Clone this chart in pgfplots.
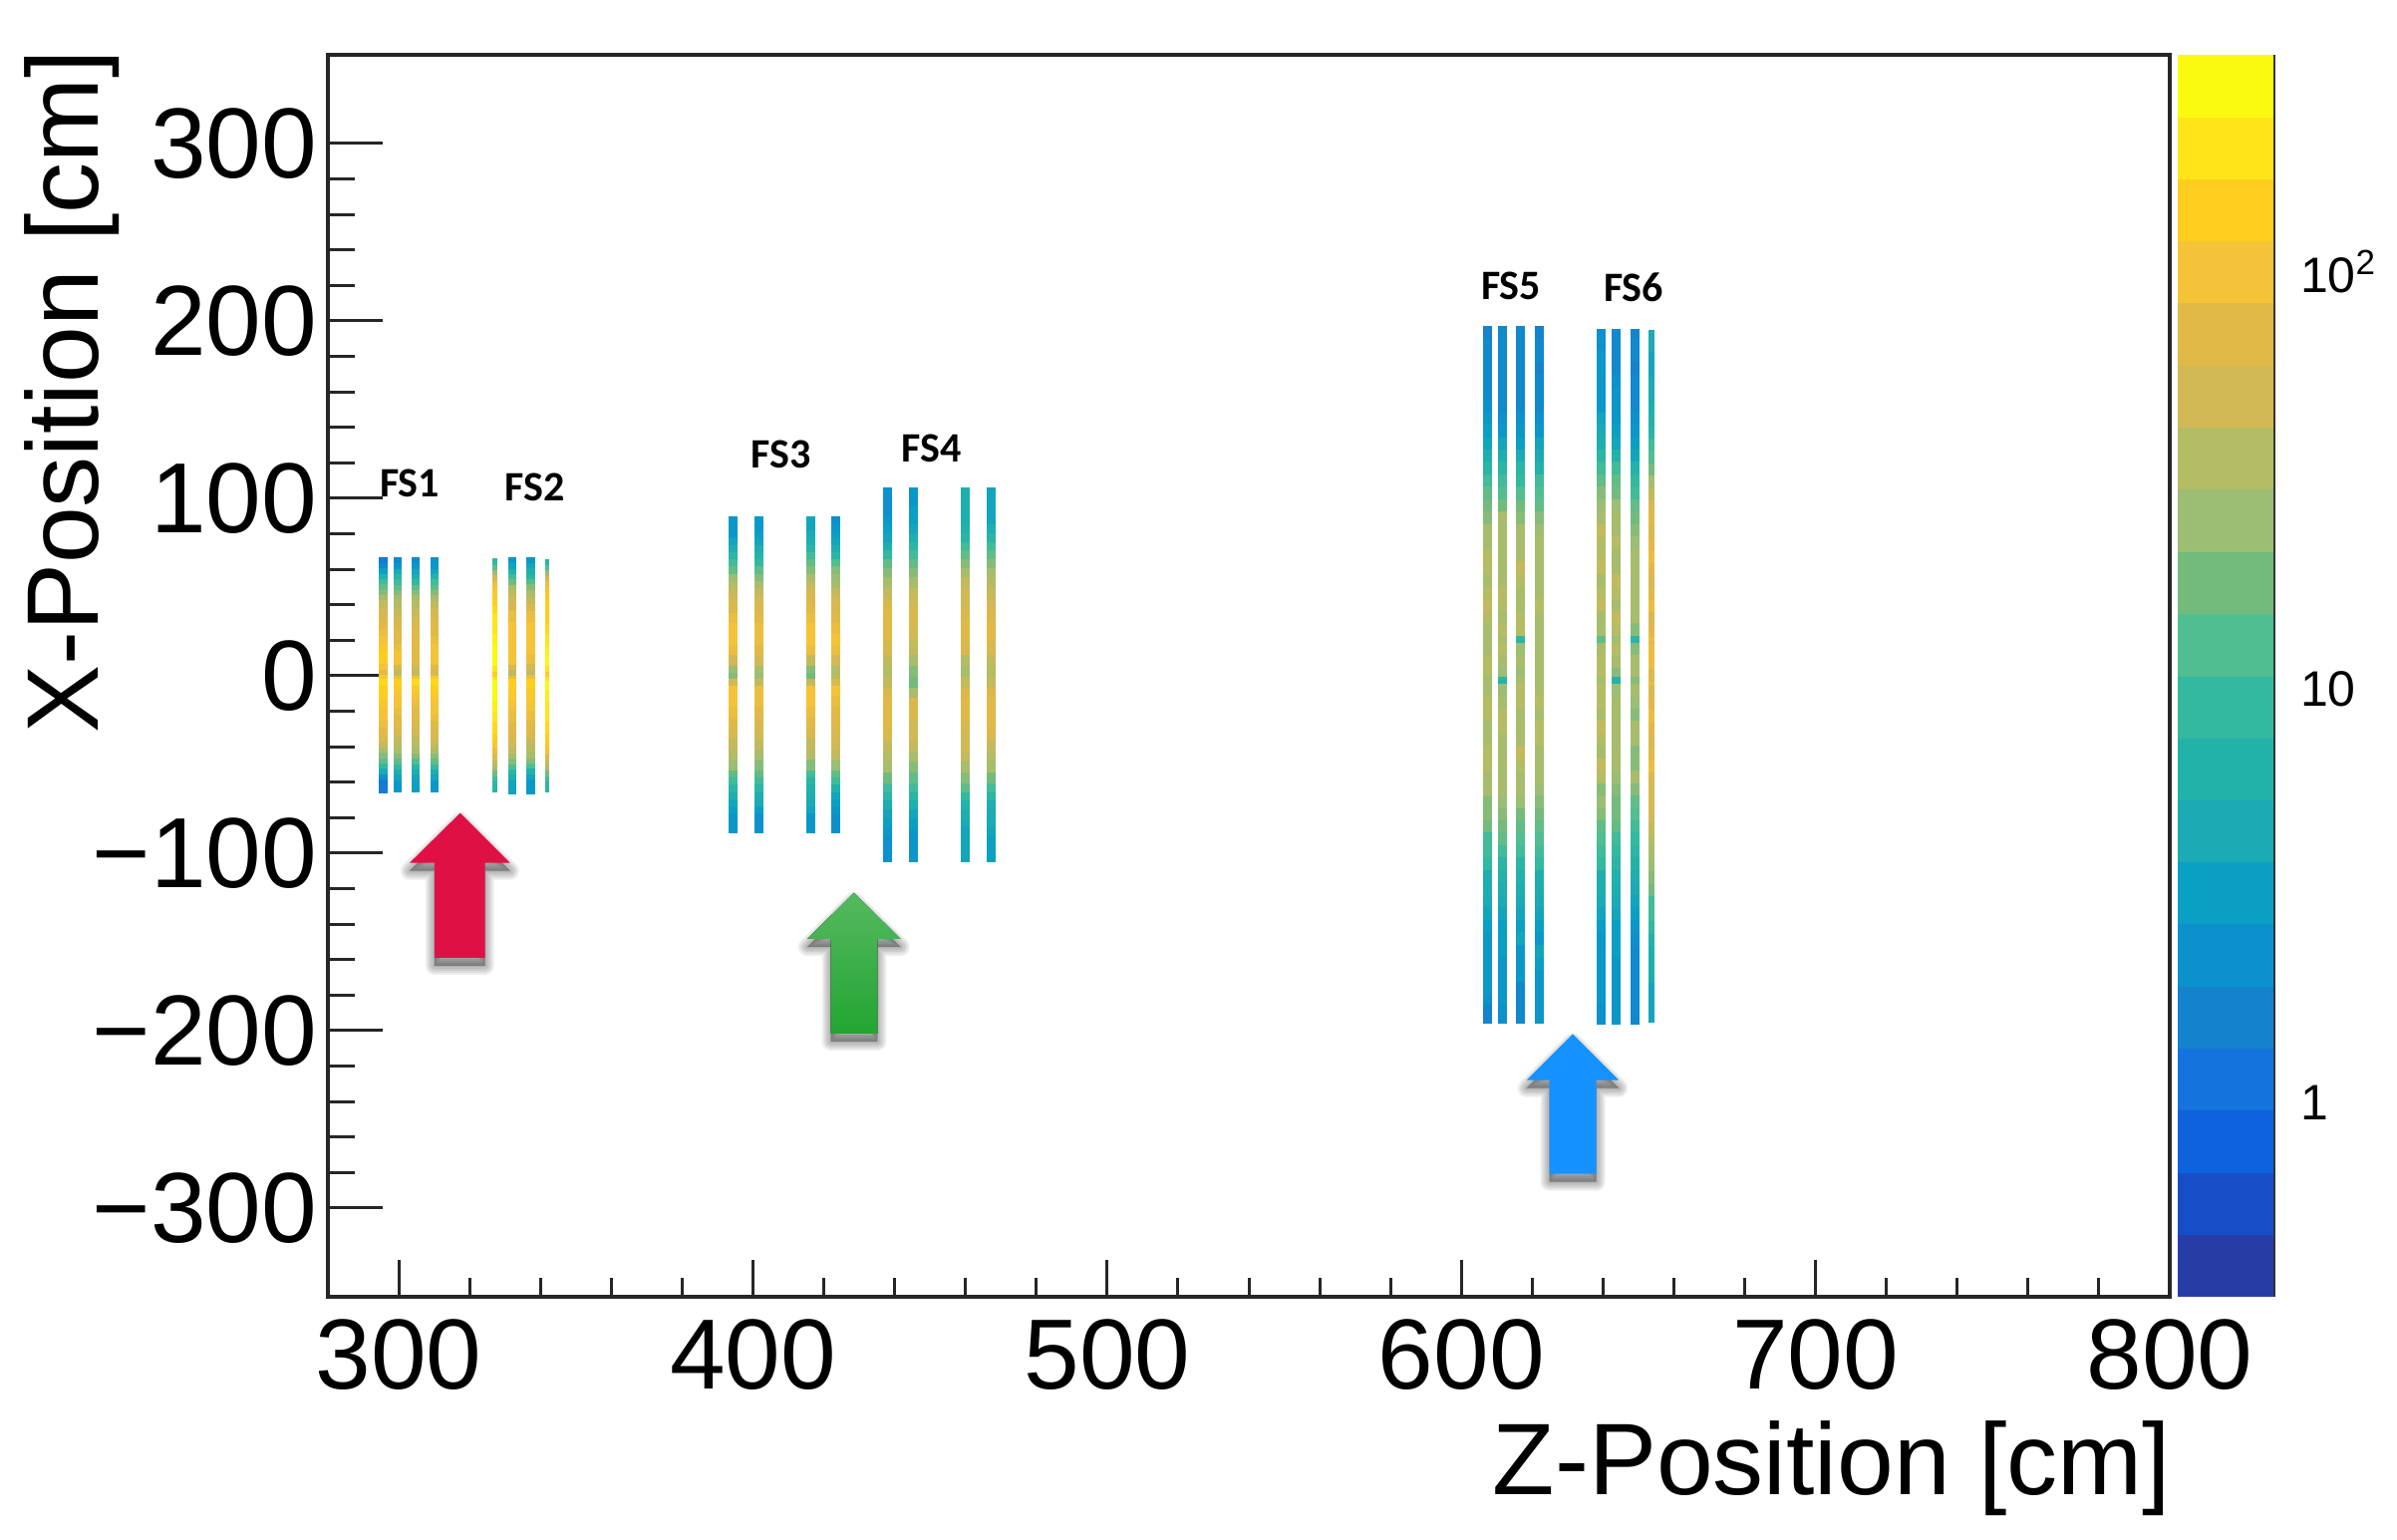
\documentclass[border=0pt]{standalone}
\usepackage{fontspec}
\usepackage{pgfplots}
\usepackage{pgfplotstable}
\pgfplotsset{compat=1.18}
\setmainfont{Liberation Sans}
\newfontfamily\fsfont{Carlito}

\pgfplotsset{colormap={rootc}{
  rgb255=(40,60,165) rgb255=(22,78,200) rgb255=(15,98,222) rgb255=(20,115,220)
  rgb255=(20,130,205) rgb255=(12,145,205) rgb255=(10,160,195) rgb255=(28,170,180)
  rgb255=(35,178,170) rgb255=(50,185,160) rgb255=(80,190,145) rgb255=(115,187,125)
  rgb255=(155,190,115) rgb255=(180,188,100) rgb255=(210,185,85) rgb255=(225,185,70)
  rgb255=(245,195,55) rgb255=(255,205,30) rgb255=(255,228,25) rgb255=(250,250,15)}}

% colour band along each strip, one column per plane
\pgfplotstableread{
y a b c d
64.5 3 4 4 5
61 4 5 5 5
58 5 6 6 6
55 7 8 7 7
52 9 9 8 9
49 10 10 10 10
46 11 11 11 11
43 12 12 12 12
40 13 13 13 13
36 14 13 13 14
32 14 14 14 14
28 15 14 14 15
24 15 15 15 15
20 16 15 15 15
16 16 15 15 16
12 17 16 15 16
8 17 16 15 16
4 17 16 15 16
1 15 13 13 14
-2 15 14 14 15
-4 18 17 18 18
-8 17 17 17 17
-12 17 16 16 17
-16 17 16 16 16
-20 16 16 15 16
-24 16 15 15 16
-28 16 15 15 15
-32 15 15 14 15
-36 15 14 14 14
-40 14 13 13 14
-43 13 13 13 13
-46 12 12 12 12
-49 11 11 11 11
-52 10 10 9 10
-55 8 8 8 8
-58 6 7 7 7
-61 4 6 6 6
-63.5 3 5 6 5
}\fsone
\pgfplotstableread{
y a b c d
64.5 8 5 5 8
61 10 6 6 9
58 11 7 7 11
55 13 9 8 13
52 15 10 9 15
49 16 12 11 16
46 16 13 12 16
42 17 14 13 17
38 17 14 14 17
34 18 15 15 17
28 18 16 16 17
22 18 16 16 18
16 19 16 16 18
10 19 16 16 19
4 19 16 15 19
1 17 13 13 17
-2 17 14 14 17
-4 19 17 17 19
-10 19 17 17 19
-16 19 16 16 18
-22 18 16 16 18
-28 18 15 15 18
-34 17 15 15 17
-38 17 14 14 17
-42 16 14 13 16
-46 15 13 13 16
-49 14 12 12 14
-52 13 11 11 13
-55 12 9 9 12
-58 10 8 7 10
-61 9 7 6 9
-64.5 8 6 5 8
}\fstwo
\pgfplotstableread{
y a b c d
87.5 5 6 7 5
83 6 5 6 5
79 5 6 7 6
75 6 6 7 6
71 7 7 8 7
67 8 8 9 8
63 9 8 10 9
59 10 10 11 11
55 11 11 12 12
51 13 12 13 12
47 13 13 14 13
43 14 14 14 14
39 14 14 15 14
33 15 15 15 15
27 16 15 16 15
21 16 16 16 16
15 16 15 16 16
9 15 15 15 15
3 13 13 12 13
-1 11 12 11 13
-4 12 12 11 13
-8 16 15 16 16
-14 16 16 16 16
-20 16 15 16 15
-26 15 15 15 15
-32 15 14 15 15
-38 14 14 14 14
-44 13 13 13 14
-50 13 12 13 13
-56 11 11 10 11
-60 10 10 9 10
-64 9 9 8 9
-68 8 8 8 7
-72 7 7 7 6
-76 6 7 7 6
-80 6 5 6 5
-86.5 5 5 5 5
}\fsthree
\pgfplotstableread{
y a b c d
103.5 5 6 8 7
98 5 5 7 6
93 5 6 8 7
88 5 6 7 6
83 6 6 8 7
78 6 7 8 8
73 7 8 9 9
68 8 9 10 10
63 10 10 11 11
58 11 11 12 12
53 12 12 13 13
47 13 13 14 13
41 14 14 14 14
35 15 14 14 14
29 15 15 15 15
23 15 14 15 15
17 15 14 15 15
9 14 13 14 14
3 13 12 12 13
-3 13 11 13 13
-9 14 11 14 14
-15 15 14 15 15
-21 15 15 15 15
-27 15 14 15 15
-33 15 14 14 15
-39 14 14 14 14
-45 13 13 14 13
-51 13 12 13 13
-57 12 11 12 12
-63 10 10 11 10
-68 9 9 10 9
-73 8 8 8 8
-78 7 7 8 7
-83 6 6 7 7
-88 6 6 7 7
-93 5 5 6 6
-98 5 6 7 6
-102.5 5 5 6 6
}\fsfour
\pgfplotstableread{
y a b c d
194.5 4 4 4 4
188 4 5 5 4
181 5 4 4 5
174 4 5 5 4
167 5 4 4 4
160 4 5 5 5
153 5 4 4 4
146 5 5 5 5
139 6 5 5 5
132 6 6 6 6
125 7 7 6 7
118 8 8 8 7
111 9 9 9 9
104 10 10 9 10
97 11 10 11 10
90 11 12 11 11
83 12 13 12 12
76 13 12 13 12
69 12 13 12 13
62 14 12 13 12
55 12 13 14 13
48 13 12 12 12
41 13 14 13 13
34 14 12 12 13
27 12 13 14 12
20 13 13 12 13
18 12 12 6 12
16 13 13 11 13
9 12 13 13 12
2 14 12 12 13
-3 12 12 12 12
-5 12 5 13 13
-7 13 11 12 12
-14 12 13 14 13
-21 14 12 12 13
-28 12 14 13 12
-35 13 12 12 14
-42 12 13 13 12
-49 14 12 14 13
-56 12 13 12 12
-63 13 12 13 13
-70 12 13 12 11
-77 11 11 12 12
-84 12 12 10 10
-91 10 10 11 11
-98 9 11 9 9
-105 10 8 10 10
-112 8 9 7 8
-119 7 7 9 7
-126 8 8 6 8
-133 6 6 8 6
-140 7 7 5 7
-147 5 5 7 5
-154 6 7 6 6
-161 5 5 5 7
-168 6 6 6 5
-175 5 5 5 6
-182 6 6 4 5
-188 4 5 5 6
-193.5 4 5 4 5
}\fsfive
\pgfplotstableread{
y a b c d
193 5 5 4 7
188 5 4 4 7
181 5 5 5 7
174 6 4 4 6
167 5 5 4 7
160 6 5 5 7
153 5 6 4 7
146 6 5 5 8
139 7 6 5 8
132 7 6 6 9
125 8 7 6 10
118 9 9 7 10
111 10 10 9 12
104 11 11 9 13
97 12 11 10 14
90 12 13 11 15
83 13 12 11 15
76 14 13 12 14
69 12 13 12 16
62 14 12 13 15
55 13 13 12 15
48 12 14 13 14
41 14 12 12 16
34 13 13 13 15
27 12 14 12 14
20 13 12 11 16
18 8 12 6 15
16 13 13 11 15
9 12 13 12 16
2 14 12 13 15
-3 12 11 12 14
-5 13 5 11 16
-7 12 11 12 15
-14 14 13 13 14
-21 12 12 11 16
-28 13 13 12 15
-35 14 12 13 15
-42 12 13 12 14
-49 13 12 11 16
-56 14 13 12 15
-63 12 11 13 14
-70 11 12 10 14
-77 13 10 11 15
-84 10 12 9 13
-91 11 9 10 14
-98 9 10 8 12
-105 10 8 9 13
-112 8 9 7 11
-119 7 7 8 12
-126 8 8 6 10
-133 6 6 7 9
-140 7 7 5 10
-147 5 5 6 8
-154 6 7 4 8
-161 5 5 5 7
-168 6 6 4 8
-175 5 5 5 7
-182 6 6 4 6
-188 5 5 5 7
-194 5 6 4 6
}\fssix

% one strip: z position, width, table, column
\newcommand{\strip}[4]{\addplot[mesh,line width=#2,line cap=rect,point meta=explicit,forget plot]
  table[x expr=#1,y=y,meta=#4]{#3};}
\newcommand{\band}[3]{\addplot[index of colormap=#1 of rootc,fill=.,draw=none,forget plot]
  coordinates {(0,#2)(1,#2)(1,#3)(0,#3)} --cycle;}
% soft shadow, then the arrow on top
\newcommand{\uparrowpic}[2]{
  \foreach \w in {1,3,5,7,9}{
    \draw[black,fill=black,opacity=.07,line width=\w pt,line join=round,yshift=-4pt] #2;}
  \fill[#1] #2;}

\begin{document}
\begin{tikzpicture}
\path[use as bounding box] (-164.5pt,-122pt) rectangle (1038pt,650.5pt);
\begin{axis}[
    at={(0,0)}, anchor=south west,
    scale only axis, width=924pt, height=623pt,
    xmin=280, xmax=800, ymin=-350, ymax=350,
    colormap name=rootc, point meta min=0, point meta max=19,
    xtick={300,400,500,600,700,800},
    xticklabels={300,400,500,600,700,800},
    ytick={-300,-200,-100,0,100,200,300},
    yticklabels={−300,−200,−100,0,100,200,300},
    minor x tick num=4, minor y tick num=4,
    xtick pos=bottom, ytick pos=left, tick align=inside,
    axis line style={line width=1.6pt,black!85},
    tick style={line width=1.5pt,black!85},
    major tick length=27.5pt, minor tick length=13.5pt,
    x tick style={/pgfplots/major tick length=18.5pt,/pgfplots/minor tick length=9.5pt},
    tick label style={font=\fontsize{50}{58}\selectfont},
    xticklabel style={yshift=-8pt},
    yticklabel style={xshift=-2pt},
    xlabel={Z-Position [cm]}, ylabel={X-Position [cm]},
    label style={font=\fontsize{51}{60}\selectfont},
    xlabel style={at={(axis description cs:1,0)},anchor=base east,yshift=-99.5pt,xshift=4pt},
    ylabel style={at={(axis description cs:0,1)},anchor=base east,yshift=115pt,xshift=6pt},
]
\strip{295.5}{4.5pt}{\fsone}{a}
\strip{299.7}{4pt}{\fsone}{b}
\strip{304.9}{4pt}{\fsone}{c}
\strip{310.2}{4pt}{\fsone}{d}
\strip{327.2}{2.7pt}{\fstwo}{a}
\strip{332.1}{4pt}{\fstwo}{b}
\strip{337.2}{4.5pt}{\fstwo}{c}
\strip{341.9}{2.4pt}{\fstwo}{d}
\strip{394.3}{4.5pt}{\fsthree}{a}
\strip{401.6}{4.5pt}{\fsthree}{b}
\strip{416.2}{4.5pt}{\fsthree}{c}
\strip{423.4}{4.5pt}{\fsthree}{d}
\strip{437.9}{4.5pt}{\fsfour}{a}
\strip{445.2}{4.5pt}{\fsfour}{b}
\strip{459.9}{4.5pt}{\fsfour}{c}
\strip{467.2}{4.5pt}{\fsfour}{d}
\strip{607.3}{4.5pt}{\fsfive}{a}
\strip{611.5}{4.5pt}{\fsfive}{b}
\strip{616.7}{4.5pt}{\fsfive}{c}
\strip{621.9}{4.5pt}{\fsfive}{d}
\strip{639.4}{4.5pt}{\fssix}{a}
\strip{643.7}{4.5pt}{\fssix}{b}
\strip{648.9}{4.5pt}{\fssix}{c}
\strip{653.7}{3pt}{\fssix}{d}
\node[font=\fsfont\bfseries\fontsize{21}{25}\selectfont,inner sep=0pt] at (axis cs:303.1,108.4) {FS1};
\node[font=\fsfont\bfseries\fontsize{21}{25}\selectfont,inner sep=0pt] at (axis cs:338.4,106) {FS2};
\node[font=\fsfont\bfseries\fontsize{21}{25}\selectfont,inner sep=0pt] at (axis cs:408,124.7) {FS3};
\node[font=\fsfont\bfseries\fontsize{21}{25}\selectfont,inner sep=0pt] at (axis cs:450.4,128.4) {FS4};
\node[font=\fsfont\bfseries\fontsize{21}{25}\selectfont,inner sep=0pt] at (axis cs:614,219.7) {FS5};
\node[font=\fsfont\bfseries\fontsize{21}{25}\selectfont,inner sep=0pt] at (axis cs:648.6,219) {FS6};
\end{axis}

% colour scale, same log range as the strips
\begin{axis}[
    at={(928pt,0)}, anchor=south west,
    scale only axis, width=48pt, height=623pt,
    xmin=0, xmax=1, ymin=0.33, ymax=330, ymode=log,
    axis x line=none, axis y line=right,
    axis line style={-,line width=1.6pt,black!80},
    tick align=inside,
    tick style={line width=1.3pt,black},
    major tick length=27.5pt, minor tick length=13.5pt,
    ytick={1,10,100},
    yticklabels={1,10,10\textsuperscript{2}},
    minor ytick={0.4,0.5,0.6,0.7,0.8,0.9,2,3,4,5,6,7,8,9,20,30,40,50,60,70,80,90,200,300},
    yticklabel style={font=\fontsize{25}{30}\selectfont,anchor=base west,xshift=10pt,yshift=-11.5pt},
    log basis y=10,
]
\band{0}{0.33}{0.466}
\band{1}{0.466}{0.658}
\band{2}{0.658}{0.93}
\band{3}{0.93}{1.31}
\band{4}{1.31}{1.85}
\band{5}{1.85}{2.62}
\band{6}{2.62}{3.7}
\band{7}{3.7}{5.22}
\band{8}{5.22}{7.37}
\band{9}{7.37}{10.4}
\band{10}{10.4}{14.7}
\band{11}{14.7}{20.8}
\band{12}{20.8}{29.4}
\band{13}{29.4}{41.5}
\band{14}{41.5}{58.6}
\band{15}{58.6}{82.8}
\band{16}{82.8}{117}
\band{17}{117}{165}
\band{18}{165}{233}
\band{19}{233}{330}
\end{axis}

% arrows pointing at the stations, coordinates in image pixels
\begin{scope}[x=0.5pt,y=-0.5pt,shift={(-164.5pt,650.5pt)}]
\uparrowpic{fill={rgb,255:red,223;green,17;blue,68}}{(461.7,815.7)--(511.7,865.7)--(486.7,865.7)--(486.7,961)--(436,961)--(436,865.7)--(411,865.7)--cycle}
\uparrowpic{top color={rgb,255:red,85;green,185;blue,95},bottom color={rgb,255:red,35;green,165;blue,50}}{(856.8,895.7)--(903.7,942)--(880.4,942)--(880.4,1037)--(833.6,1037)--(833.6,942)--(810,942)--cycle}
\uparrowpic{fill={rgb,255:red,21;green,146;blue,255}}{(1578,1037.3)--(1624.3,1083.7)--(1601.7,1083.7)--(1601.7,1177.7)--(1554.7,1177.7)--(1554.7,1083.7)--(1531.7,1083.7)--cycle}
\end{scope}
\end{tikzpicture}
\end{document}
